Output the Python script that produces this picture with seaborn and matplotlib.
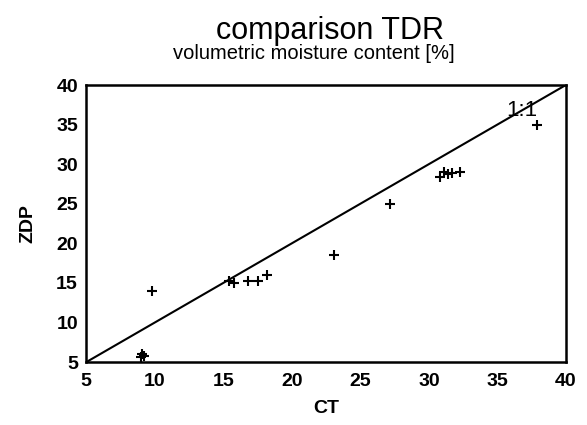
import matplotlib
matplotlib.use('Agg')
import matplotlib.pyplot as plt
import seaborn as sns
import pandas as pd

# CT vs ZDP measurements (volumetric moisture content, %)
ct = [9.0, 9.1, 9.2, 9.8, 15.4, 15.8, 16.8, 17.5, 18.2, 23.1, 27.2,
      30.8, 31.1, 31.4, 31.7, 32.3, 37.9]
zdp = [5.6, 6.0, 5.8, 14.0, 15.3, 15.0, 15.2, 15.2, 16.0, 18.5, 25.0,
       28.4, 29.0, 28.8, 28.9, 29.0, 35.0]
line_x = [5, 40]
line_y = [5, 40]
ticks = [5, 10, 15, 20, 25, 30, 35, 40]

df = pd.DataFrame({'CT': ct, 'ZDP': zdp})

sns.set_style('white')
plt.rcParams['font.family'] = ['Liberation Sans', 'DejaVu Sans']
plt.rcParams['text.color'] = 'black'
plt.rcParams['axes.labelcolor'] = 'black'

fig = plt.figure(figsize=(5.87, 4.25), dpi=100)
ax = fig.add_axes([0.147, 0.148, 0.817, 0.652])

sns.lineplot(x=line_x, y=line_y, color='black', linewidth=1.5, ax=ax)
sns.scatterplot(x='CT', y='ZDP', data=df, marker='+', s=55, color='black',
                linewidth=1.5, ax=ax)

ax.set_xlim(5, 40)
ax.set_ylim(5, 40)
ax.set_xticks(ticks)
ax.set_yticks(ticks)
ax.tick_params(axis='both', direction='out', length=3, width=1.2,
               labelsize=14, colors='black')
ax.tick_params(axis='x', pad=5)
ax.tick_params(axis='y', pad=3)
for lab in ax.get_xticklabels() + ax.get_yticklabels():
    lab.set_fontweight('bold')
ax.set_xlabel('CT', fontsize=14, fontweight='bold', labelpad=7, color='black')
ax.set_ylabel('ZDP', fontsize=14, fontweight='bold', labelpad=14, color='black')
for sp in ax.spines.values():
    sp.set_visible(True)
    sp.set_color('black')
    sp.set_linewidth(1.8)

ax.text(36.8, 36.8, '1:1', fontsize=16, ha='center', va='center', color='black')

fig.text(0.562, 0.928, 'comparison TDR', fontsize=22, ha='center', va='center',
         color='black')
fig.text(0.535, 0.875, 'volumetric moisture content [%]', fontsize=14.5,
         ha='center', va='center', color='black')

fig.savefig('out.png', dpi=100)
